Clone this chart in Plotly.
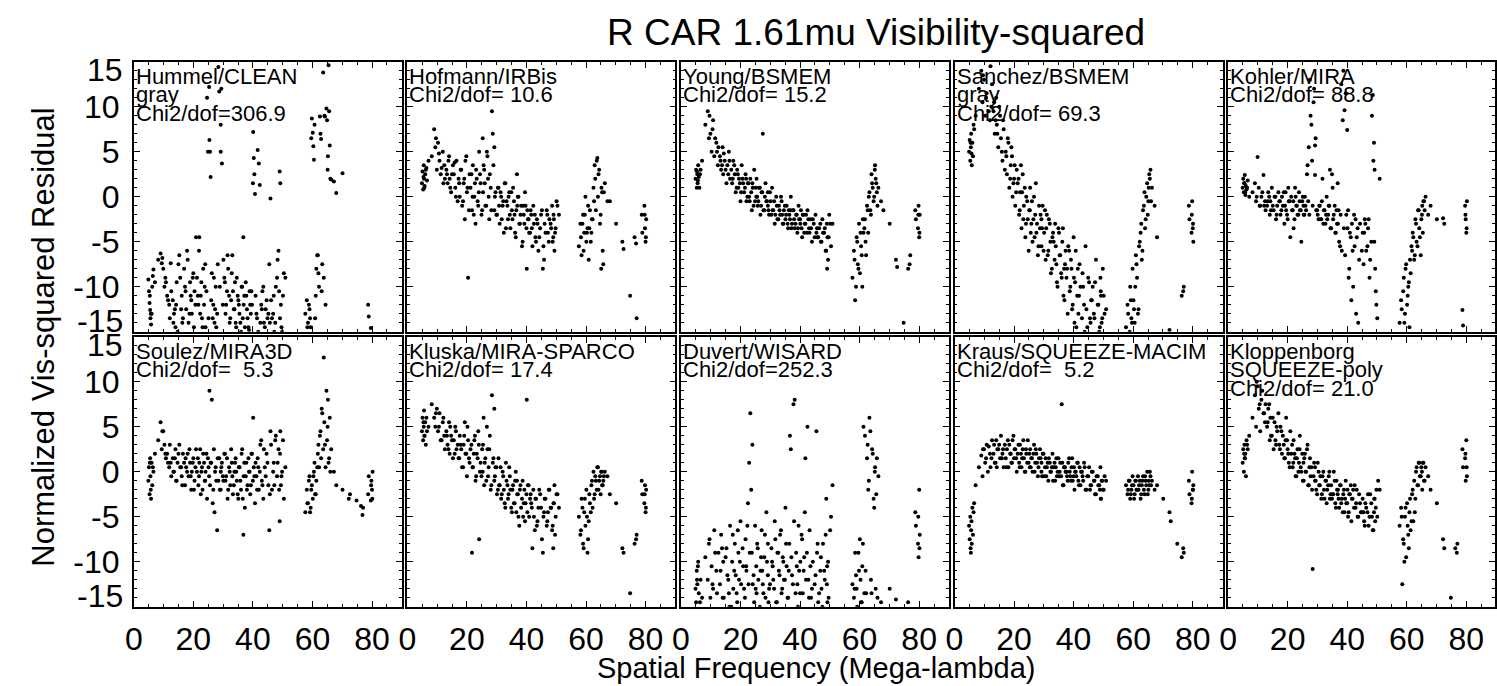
import plotly.graph_objects as go

W, H = 1497, 686
FONT = "Liberation Sans, Arial, Helvetica, sans-serif"

# ---------------- data ----------------
# spatial frequency of each measurement (Mega-lambda), shared by all reconstructions
FREQ = [4.9, 5.1, 5.3, 5.5, 5.6, 5.8, 6.0, 6.2, 6.6, 7.1,
        8.2, 9.0, 9.4, 9.9, 10.3, 10.8, 11.2, 11.9, 12.4, 12.6,
        13.1, 13.5, 14.0, 14.2, 14.7, 15.3, 15.6, 16.1, 16.5, 16.9,
        17.2, 17.6, 18.1, 18.4, 18.9, 19.3, 19.5, 20.0, 20.4, 20.9,
        21.2, 21.7, 22.0, 22.5, 22.9, 23.3, 23.8, 24.1, 24.6, 24.9,
        25.3, 25.4, 25.8, 26.2, 26.7, 27.1, 27.5, 28.0, 28.4, 28.7,
        29.2, 29.2, 29.6, 30.1, 30.6, 31.0, 31.5, 32.0, 32.4, 32.9,
        33.3, 33.8, 34.2, 34.6, 35.1, 35.5, 36.0, 36.4, 36.9, 37.3,
        37.8, 38.2, 38.7, 39.1, 39.5, 40.0, 40.1, 40.3, 40.7, 41.2,
        41.6, 42.0, 42.3, 42.5, 43.0, 43.5, 44.0, 44.6, 45.2, 45.9,
        46.4, 47.0, 47.5, 48.1, 48.6, 49.0, 49.2, 49.4, 49.8, 50.4,
        57.6, 58.1, 58.5, 59.0, 59.4, 59.8, 60.1, 60.5, 60.9, 61.3,
        61.8, 62.2, 62.5, 62.9, 63.3, 63.8, 64.2, 64.7, 65.1, 65.4,
        65.8, 66.3, 67.2, 68.0, 70.1, 72.2, 72.6, 74.8, 76.3, 76.8,
        77.0, 78.7, 78.9, 79.6, 79.8, 80.0, 80.2, 50.9, 45.5, 36.8]
FREQ_B = [5.4, 5.7, 6.4, 9.6, 10.6, 11.5, 12.1, 13.3, 13.8, 14.4,
          15.0, 15.9, 16.3, 17.4, 17.9, 18.7, 19.1, 19.8, 20.2, 20.7,
          21.5, 21.9, 22.3, 22.7, 23.1, 23.6, 24.0, 24.4, 25.1, 25.6,
          26.0, 26.5, 26.9, 27.3, 27.7, 28.2, 28.9, 29.4, 29.9, 30.4,
          30.8, 31.3, 31.7, 32.2, 32.7, 33.1, 33.6, 34.0, 34.4, 34.9,
          35.3, 35.8, 36.2, 36.6, 37.1, 37.6, 38.0, 38.5, 38.9, 39.3,
          39.7, 40.5, 40.9, 41.4, 41.8, 42.8, 43.2, 43.7, 44.3, 44.9,
          45.7, 46.1, 46.8, 47.2, 47.7, 48.3, 48.8, 49.1, 49.6, 50.1,
          58.3, 58.8, 59.2, 59.6, 60.3, 60.7, 61.1, 61.6, 62.0, 62.7,
          63.1, 63.6, 64.0, 64.4, 64.9, 65.2, 65.6, 66.0, 79.7, 80.1]

R_HUMMEL = [-9.2, -10.5, -11.8, -12.6, -13.5, -14.2, -13.0, -10.0, -8.1, -9.5,
            -7.0, -6.3, -7.4, -8.0, -10.0, -9.5, -11.0, -12.0, -7.4, -10.5,
            -11.5, -13.0, -14.5, -12.0, -15.0, -6.5, -9.0, -11.0, -13.5, -8.0,
            -10.0, -12.5, -7.0, -14.0, -9.5, -11.5, -13.0, -8.5, -10.5, -4.5,
            -9.0, -12.0, -4.5, -11.0, -13.5, -8.0, -10.0, -14.5, 11.0, 5.0,
            12.2, 6.3, 2.2, -8.5, -12.0, -14.0, -10.0, -13.0, 14.4, 11.7,
            8.0, 5.0, 3.7, -7.0, -9.5, -12.0, -6.5, -11.0, -13.5, -8.5,
            -10.5, -12.5, -14.0, -9.0, -11.5, -13.0, -15.0, -10.0, -12.0, -14.5,
            -11.0, -13.5, -14.8, -12.0, -10.5, 1.5, 7.2, 4.3, 0.3, -13.0,
            5.2, 3.7, 1.3, -14.0, -12.5, -10.0, -14.5, -11.5, -13.0, -0.2,
            -13.5, -11.0, -14.0, -9.0, -6.0, 2.8, 1.5, -12.0, -15.0, -8.5,
            -13.0, -11.5, -14.0, -12.5, -14.5, 8.7, 7.1, 4.1, -13.5, -8.0,
            -6.5, -10.0, 8.9, 6.4, -7.5, -9.0, 8.9, 9.8, 3.0, 14.6,
            5.7, 1.9, 1.7, 0.4, 2.6, -17.0, -18.0, -20.0, -19.0, -17.0,
            -18.0, -12.0, -13.3, -14.6, -16.0, -17.0, -18.0, -9.0, -7.5, -4.5]
R_HUMMEL_B = [-11.0, -13.0, -8.8, -6.8, -9.0, -11.5, -13.5, -14.0, -12.5, -9.5,
              -7.5, -12.5, -14.0, -10.5, -6.0, -13.0, -11.0, -9.0, -14.5, -12.0,
              -11.0, -6.0, -13.0, -9.5, -14.5, -12.0, -7.5, -10.5, -13.5, 5.0,
              -11.5, -13.5, -9.0, -12.5, -14.5, -7.5, -10.0, 12.0, -12.0, -9.0,
              -13.0, -10.5, -8.0, -14.0, -11.5, -6.5, -12.5, -9.5, -14.5, -11.0,
              -12.0, -14.0, -10.0, -13.5, -11.0, -9.5, -12.5, -14.5, -10.5, -13.0,
              -12.0, 2.5, -11.0, -13.5, -15.0, -12.0, -10.5, -14.0, -12.5, -13.5,
              -14.0, -11.5, -13.0, -15.0, -10.0, -7.0, -10.5, -13.5, -14.5, -11.0,
              -14.5, -12.0, -13.5, 6.5, 5.6, 8.0, -11.0, -6.5, -8.5, 7.0,
              -10.5, 13.8, 9.0, -12.0, 8.5, 4.5, 9.5, 2.0, -16.0, -17.0]
R_HOFMANN = [1.5, 2.8, 0.8, 3.5, 2.0, 1.2, 2.5, 3.0, 1.8, 4.0,
             4.5, 7.5, 5.5, 3.0, 6.0, 4.0, 2.5, 5.0, 3.5, 2.0,
             3.0, 1.5, 4.5, 2.0, 0.5, 3.5, 2.5, 1.0, 4.0, -0.5,
             2.0, 0.0, 3.0, -1.0, 1.5, -2.5, 4.0, 0.5, -9.0, 2.5,
             1.0, -1.5, 3.5, 0.0, -3.0, 2.0, -1.0, 5.0, 1.5, -2.0,
             6.5, 0.5, 3.0, -1.0, 5.0, 2.0, -2.5, 1.0, 9.5, 7.0,
             5.5, -1.5, 0.5, -2.0, 1.0, -3.0, 0.0, -1.0, -4.0, 1.5,
             -0.5, -2.5, 0.5, -3.5, -1.5, 1.0, -2.0, -4.5, -1.0, 0.0,
             -3.0, -1.0, -5.0, -2.0, 0.5, -3.5, -8.0, -1.5, -2.5, -4.0,
             -2.0, -5.5, -1.0, -3.0, -4.5, -2.5, -6.0, -3.5, -1.5, -7.0,
             -4.0, -2.0, -5.0, -3.0, -1.0, -4.5, -2.5, -6.0, -3.5, -1.0,
             -5.5, -3.0, -6.5, -2.0, -4.0, 0.0, -5.0, -3.5, -7.0, -1.5,
             -4.0, -2.5, 1.0, 3.5, -1.5, 4.3, 2.5, -3.0, -8.0, 0.5,
             -7.5, 1.5, -0.5, -0.5, -3.0, -5.0, -5.8, -11.0, -4.5, -5.2,
             -13.5, -2.0, -4.0, -1.0, -3.5, -5.0, -2.5, -2.0, -8.0, 2.5]
R_HOFMANN_B = [2.2, 1.0, 3.2, 6.5, 4.8, 3.2, 1.5, 2.5, 4.0, 1.0,
               2.5, 3.8, 0.0, 1.5, 3.0, -0.5, 2.0, 4.5, 1.0, -1.5,
               2.5, 0.0, -2.0, 1.5, 3.0, -0.5, 0.5, 2.5, -1.5, 3.5,
               1.5, -1.0, 4.5, 0.0, 2.5, -1.5, 3.5, 0.0, -2.0, 1.0,
               -1.0, 0.5, -2.5, -0.5, 1.5, -3.5, -1.0, 0.0, -2.0, 0.5,
               -2.5, -0.5, -4.0, -1.5, 0.0, -3.0, -2.0, -5.5, -1.0, -3.0,
               -1.0, -2.5, -4.0, -1.5, -3.5, -2.0, -5.0, -3.0, -4.5, -2.0,
               -5.5, -3.0, -1.5, -4.0, -2.5, -3.5, -5.0, -2.0, -4.0, -0.5,
               -4.5, -3.0, -6.0, -2.0, -4.0, -1.0, -3.5, -5.0, -2.5, -0.5,
               2.0, 4.0, 0.0, 3.0, -2.0, 1.0, -6.0, 0.5, -2.0, -4.5]
R_YOUNG = [2.0, 3.0, 1.0, 2.5, 1.5, 3.5, 2.2, 1.0, 3.0, 4.0,
           8.0, 9.5, 6.5, 7.0, 5.0, 8.5, 4.5, 6.0, 3.5, 5.5,
           4.5, 3.0, 5.5, 2.5, 4.0, 1.5, 3.5, 5.0, 2.0, 3.0,
           1.5, 4.0, 2.5, 0.5, 3.0, 1.0, 2.0, -0.5, 3.5, 1.5,
           0.5, 2.5, -0.5, 1.5, 0.0, 2.0, -1.5, 1.0, 3.0, -0.5,
           0.0, 2.0, -1.0, 1.0, -2.0, 0.5, 7.0, -1.5, 1.5, -0.5,
           -1.0, 0.5, -2.0, -0.5, 1.0, -1.5, -3.0, 0.0, -2.5, -1.0,
           -2.0, -0.5, -3.0, -1.5, -2.5, -1.0, -3.5, -2.0, 0.0, -3.0,
           -1.5, -3.5, -2.0, -4.0, -1.0, -2.5, -3.0, -1.5, -4.5, -2.0,
           -3.0, -2.0, -4.0, -1.5, -3.5, -2.5, -5.0, -3.0, -2.0, -4.5,
           -3.5, -5.0, -2.5, -4.0, -6.0, -3.0, -4.5, -7.0, -2.0, -5.5,
           -9.0, -6.0, -11.5, -4.5, -7.5, -3.0, -8.5, -5.5, -10.0, -4.0,
           -2.5, -6.5, -1.0, -4.0, 0.5, -2.0, 1.5, -0.5, 3.0, 2.0,
           0.5, 1.0, -0.5, -1.5, -3.0, -7.0, -7.8, -14.0, -8.0, -7.5,
           -6.5, -1.5, -2.5, -3.5, -1.0, -4.5, -2.0, -3.0, -4.0, -1.5]
R_YOUNG_B = [2.8, 1.8, 2.5, 9.0, 7.5, 6.5, 5.0, 4.0, 3.5, 4.8,
             3.0, 2.5, 4.0, 2.0, 3.5, 1.0, 2.5, 1.5, 0.5, 2.0,
             1.0, 2.0, 0.0, 1.5, -0.5, 0.5, 1.5, -1.0, 1.0, 0.0,
             -0.5, 1.0, -1.0, 0.5, -1.5, 0.0, -0.5, -1.5, 0.5, -2.0,
             -1.5, -0.5, -2.0, -1.0, -2.5, -1.5, 0.0, -2.0, -3.0, -1.0,
             -2.0, -3.0, -1.5, -2.5, -3.5, -1.5, -2.5, -3.0, -2.0, -3.5,
             -2.5, -3.5, -2.0, -4.0, -3.0, -2.5, -4.0, -3.5, -2.5, -4.5,
             -3.5, -4.5, -3.0, -5.0, -4.0, -3.5, -6.0, -8.0, -4.5, -3.0,
             -7.0, -10.0, -5.0, -8.0, -4.0, -6.5, -2.5, -3.5, -5.0, -1.5,
             0.0, -1.5, 2.5, 1.0, 0.0, 3.5, 1.5, -1.0, -2.0, -4.0]
R_SANCHEZ = [5.0, 6.3, 4.0, 5.5, 7.0, 3.5, 6.0, 4.5, 7.5, 9.0,
             12.0, 14.0, 10.5, 13.0, 9.0, 11.5, 15.5, 8.5, 10.0, 12.5,
             9.5, 7.0, 11.0, 8.0, 5.5, 9.0, 6.5, 4.0, 7.5, 3.0,
             5.0, 2.5, 6.0, 1.0, 3.5, 4.5, 0.0, 2.0, -1.0, 3.0,
             1.5, -2.0, 0.5, -3.5, 2.5, -1.0, -4.5, 0.0, -2.5, -6.0,
             -1.5, 1.0, -3.0, -5.0, 0.0, -2.0, -4.0, -6.5, -1.0, -3.5,
             -2.5, -5.5, -1.0, -4.0, -7.0, -2.0, -6.0, -3.0, -8.5, -4.5,
             -5.0, -3.0, -7.5, -10.0, -4.0, -6.5, -9.0, -3.5, -11.5, -6.0,
             -8.0, -5.5, -10.5, -7.0, -12.5, -4.5, -9.0, -14.0, -6.0, -11.0,
             -13.0, -7.5, -10.0, -15.5, -8.5, -12.0, -5.5, -14.5, -9.5, -11.5,
             -10.0, -13.5, -7.0, -12.0, -15.0, -9.0, -11.0, -14.0, -8.0, -13.0,
             -14.5, -12.0, -15.5, -10.0, -13.5, -8.0, -11.5, -14.0, -6.5, -9.0,
             -12.5, -5.0, -4.0, -7.0, -1.5, 0.5, -2.5, 1.5, -0.5, 2.5,
             3.0, 1.0, -1.0, -4.5, -15.5, -14.8, -17.0, -16.0, -11.0, -10.5,
             -10.0, -1.0, -2.5, -4.0, -0.5, -3.5, -5.0, -12.5, -13.5, -8.0]
R_SANCHEZ_B = [6.0, 4.8, 8.0, 13.5, 11.0, 9.5, 14.5, 10.5, 8.5, 7.0,
               10.0, 5.0, 8.5, 4.5, 6.5, 2.0, 5.5, 1.5, 3.5, 0.5,
               2.0, -1.5, 3.5, 0.5, -2.5, 1.0, -3.0, -0.5, -1.5, -4.0,
               -0.5, -2.5, -4.5, 1.5, -3.0, -5.5, -2.0, -3.5, -6.0, -1.5,
               -3.5, -6.5, -2.5, -5.0, -8.0, -4.0, -7.0, -5.5, -9.5, -3.5,
               -6.5, -8.5, -5.0, -11.0, -7.5, -9.0, -13.0, -6.0, -10.0, -8.0,
               -12.0, -9.5, -14.5, -8.0, -11.0, -13.5, -10.0, -15.0, -12.5, -9.0,
               -14.0, -11.5, -13.0, -9.5, -15.5, -12.0, -14.5, -10.5, -13.5, -11.0,
               -13.0, -15.0, -11.5, -14.0, -12.5, -10.0, -7.5, -13.0, -5.5, -3.0,
               -6.0, -1.0, -3.5, 0.0, -2.0, 1.0, 2.0, -0.5, -2.0, -3.0]
R_KOHLER = [1.0, 2.0, 0.5, 1.5, 2.4, 0.2, 1.2, 0.8, 1.8, 0.0,
            0.5, 1.5, -0.5, 4.4, 1.0, -1.0, 0.0, 2.4, -0.5, -1.5,
            -1.0, 0.5, -2.0, -0.5, 1.0, -1.5, 0.0, -2.5, -1.0, 0.5,
            -0.5, -2.0, 0.0, -1.0, -3.0, 0.5, -1.5, -2.5, -0.5, -4.5,
            0.0, -1.5, -3.5, 1.0, -1.0, -2.0, 0.5, -1.5, -5.0, -0.5,
            -1.0, -2.0, 0.0, -1.5, 3.5, 5.5, 13.0, 8.0, -1.0, 10.5,
            2.4, 5.7, -1.5, -2.0, -1.0, -2.5, -0.5, -3.0, -1.5, -2.0,
            -2.5, -1.0, 3.0, -3.5, 1.0, -2.0, -4.0, -1.5, -3.0, -5.0,
            -2.0, -6.0, 14.0, 9.6, 11.5, 7.4, -3.5, -1.5, -8.0, -4.5,
            -3.0, -10.0, -2.0, -5.5, -13.0, -3.5, -7.0, -15.5, -4.0, -2.5,
            -6.0, -3.5, -9.0, -5.0, 11.3, 6.0, 3.0, -8.0, -12.0, -15.5,
            -14.0, -11.5, -15.5, -9.0, -13.0, -7.5, -12.0, -10.0, -14.5, -8.5,
            -6.0, -4.5, -7.0, -2.5, -5.0, -1.5, -3.5, -6.5, -2.0, -4.0,
            -0.5, 0.0, -2.0, -1.0, -2.5, -2.4, -3.0, -16.0, -17.0, -16.0,
            -16.0, -12.6, -14.3, -1.0, -2.5, -4.0, -0.5, 2.0, -7.5, 1.5]
R_KOHLER_B = [1.5, 0.5, 1.0, 0.0, -1.0, 0.5, -1.0, -0.5, 0.0, -1.5,
              -1.0, 0.0, -2.0, -0.5, -1.5, 0.5, -1.0, -2.0, 1.0, -0.5,
              -1.5, -0.5, -2.5, 0.0, -1.0, -2.0, -0.5, -1.5, 0.0, -2.0,
              -1.0, 2.5, -0.5, -2.0, 9.0, 4.0, 12.0, 6.5, -1.5, -2.5,
              -1.0, -2.5, 2.0, -1.5, -3.0, 0.0, -2.0, -1.0, -3.5, 2.5,
              -2.5, -1.0, -4.0, -3.0, -1.5, -5.5, 12.5, 8.5, -3.5, -6.5,
              -2.0, -9.0, -4.0, -11.5, -6.0, -2.5, -4.5, -14.0, -3.0, -6.0,
              -4.0, -3.0, -5.5, -2.5, -7.0, 9.0, 4.0, -5.0, -10.5, -13.5,
              -12.5, -10.5, -14.0, -8.0, -11.0, -9.5, -7.0, -5.5, -4.0, -6.5,
              -3.0, -5.5, -1.5, -4.5, -2.5, -1.0, -0.5, -1.5, -2.0, -3.5]
R_SOULEZ = [-1.0, 0.5, -2.5, 1.5, -0.5, -3.0, 1.0, -1.5, 0.0, 2.0,
            3.5, 5.5, 2.5, 4.5, 3.0, 1.5, 2.0, 0.5, 1.0, -0.5,
            1.5, 0.0, 2.5, -1.0, 1.0, 3.0, 0.5, -0.5, 2.0, 1.0,
            -1.5, 0.5, 2.0, -0.5, 1.0, -2.0, 0.0, 1.5, -1.0, 2.5,
            0.0, -1.5, 1.0, -2.5, 0.5, 2.0, -1.0, 0.0, -3.0, 1.5,
            -0.5, 9.0, 1.0, 8.0, -2.0, -4.5, 0.5, -6.5, -1.0, 1.5,
            0.0, -2.0, 1.0, -1.0, 2.0, -0.5, -3.0, 0.5, -1.5, 1.0,
            -2.5, 0.0, 1.5, -1.0, -3.0, 0.5, -2.0, 2.5, -0.5, -4.0,
            1.0, -1.5, 0.0, -2.5, 2.0, -1.0, 6.0, 0.5, -3.5, -0.5,
            1.5, -2.0, 0.0, 3.0, -1.0, -3.0, 0.5, 2.0, -1.5, 4.5,
            -2.0, 1.0, 3.5, -0.5, 2.5, -5.5, 4.5, -1.5, 0.0, -3.0,
            -4.5, -2.0, -3.5, -0.5, -4.0, -1.5, -3.0, 0.0, -2.5, -1.0,
            2.0, 0.5, 4.0, 1.5, 6.5, 12.7, 3.0, 9.0, 5.0, 1.0,
            6.0, 2.5, 0.0, -1.5, -2.0, -3.0, -2.5, -3.2, -3.8, -4.8,
            -4.0, -2.5, -0.5, -3.2, -1.0, -2.0, 0.0, 0.5, -6.5, -7.0]
R_SOULEZ_B = [1.0, -2.0, 0.5, 4.5, 2.0, 1.0, 3.0, 0.0, 1.5, -1.0,
              2.0, 0.5, -1.5, 1.5, 0.0, 2.5, -0.5, 1.0, -2.0, 0.5,
              1.5, -0.5, 2.5, 0.0, -2.0, 1.0, -1.0, 2.0, 0.5, -1.5,
              1.0, -3.5, 2.5, 0.0, -1.0, 1.5, -2.0, 0.5, -0.5, 2.0,
              -1.0, 1.5, -2.0, 0.0, 2.5, -0.5, -1.5, 1.0, 0.0, -2.5,
              0.5, -1.0, 2.0, -3.0, 1.0, -0.5, -2.0, 1.5, 0.0, -1.5,
              2.0, -0.5, 1.0, -2.0, 0.5, 3.5, -1.5, 2.5, -0.5, 1.0,
              -2.5, 3.0, 0.0, -1.5, 4.0, 1.0, -2.0, 2.0, -0.5, 3.5,
              -3.5, -1.0, -4.5, -2.0, -0.5, 1.0, -2.5, 0.5, 3.0, 4.5,
              7.0, 2.5, 5.5, 0.5, 3.5, 8.0, 1.5, 0.0, -1.5, -3.0]
R_KLUSKA = [4.5, 6.0, 3.5, 5.0, 6.8, 4.0, 5.5, 3.0, 4.5, 5.0,
            7.5, 6.0, 5.0, 7.0, 4.5, 6.5, 3.5, 5.5, 4.0, 2.5,
            4.5, 3.0, 5.5, 2.0, 4.0, 1.5, 3.5, 5.0, 2.5, 3.0,
            1.5, 4.0, 2.5, 0.5, 3.0, 5.5, 2.0, -0.5, 3.5, 1.0,
            2.5, -9.0, 0.5, 3.5, -1.0, 2.0, 4.5, -7.5, 1.0, -0.5,
            0.0, 3.0, -1.5, 1.5, 5.0, -0.5, 2.5, -2.0, 8.5, 1.0,
            7.0, -1.0, 0.5, -2.5, 1.5, -1.5, -3.0, 0.0, -2.0, -4.0,
            -1.0, -3.0, 0.5, -2.0, -4.5, -1.5, -3.5, 0.0, -2.5, -5.0,
            -2.0, -4.0, -1.0, -3.5, -5.5, -2.5, 8.0, -4.5, -1.5, -3.0,
            -3.5, -8.5, -2.0, -5.0, -3.0, -6.0, -4.0, -2.5, -7.5, -4.5,
            -3.0, -5.5, -2.0, -4.0, -6.5, -8.5, -3.5, -1.5, -5.0, -2.5,
            -5.0, -7.0, -3.0, -8.0, -4.5, -6.0, -2.0, -9.0, -5.5, -3.5,
            -1.5, -4.0, 0.0, -2.5, -1.0, 0.5, -2.0, -0.5, 0.0, -1.5,
            -1.0, 0.0, -0.5, -2.5, -3.5, -8.5, -9.0, -13.5, -8.0, -7.5,
            -7.0, -1.0, -2.5, -3.5, -1.5, -4.5, -2.0, -4.0, -9.0, -1.0]
R_KLUSKA_B = [5.5, 4.0, 6.0, 6.5, 5.0, 3.5, 6.0, 4.0, 2.5, 5.0,
              3.5, 2.0, 4.5, 1.5, 3.0, 0.5, 4.0, 2.0, 5.0, 1.5,
              3.0, 0.5, 2.0, 4.0, -0.5, 1.5, 3.0, 0.0, 2.5, 6.0,
              1.0, -1.0, 2.5, 0.5, 4.0, -1.5, 1.5, -0.5, 0.5, -2.0,
              -1.5, 0.5, -2.5, -0.5, -3.5, 1.0, -1.5, -2.5, -0.5, -4.0,
              -2.0, -3.5, -1.0, -4.5, -2.5, -6.0, -1.5, -3.0, -5.0, -2.0,
              -3.5, -1.5, -5.0, -2.5, -4.0, -6.5, -3.0, -5.5, -2.0, -4.0,
              -5.0, -3.0, -6.0, -4.5, -2.0, -4.0, -6.0, -3.5, -7.0, -2.5,
              -6.5, -4.0, -8.5, -3.0, -5.0, -7.5, -2.5, -4.5, -1.0, -3.0,
              -0.5, -2.0, 0.5, -1.0, -2.5, 0.0, -1.5, -0.5, -2.5, -4.0]
R_DUVERT = [-13.0, -14.5, -11.0, -12.5, -15.5, -10.0, -13.5, -16.0, -12.0, -14.0,
            -9.5, -12.0, -8.0, -14.0, -10.5, -13.0, -6.5, -11.0, -15.5, -9.0,
            -12.5, -7.0, -14.0, -10.0, -16.0, -8.5, -11.5, -13.5, -6.0, -15.0,
            -10.0, -13.0, -8.0, -11.5, -14.5, -9.0, -12.0, -5.5, -15.5, -10.5,
            -13.0, -7.5, -11.0, -3.5, 1.0, 6.5, -9.0, -12.5, -14.5, -6.0,
            -10.5, -13.5, -8.5, -15.5, -11.0, -6.5, -12.5, -9.5, -14.0, -4.5,
            -11.5, -8.0, -13.0, -16.0, -10.0, -12.0, -5.5, -14.5, -9.0, -11.0,
            -7.0, -13.5, -9.5, -12.0, -4.0, -10.5, -14.0, -8.0, 2.5, -11.5,
            7.5, 8.0, -9.0, -12.5, -6.0, -13.5, -10.0, -15.5, -7.5, -11.0,
            -4.5, -12.0, -9.0, 5.0, -14.0, -10.5, -13.0, -16.0, -11.5, -8.0,
            -13.5, -9.5, -15.0, -11.0, -7.0, -12.5, -14.5, -10.0, -16.0, -5.0,
            -12.5, -14.0, -9.0, -13.0, -15.5, -11.0, -7.5, -14.5, -10.5, 5.0,
            4.0, -13.5, 1.5, -2.0, 6.0, -12.0, 2.5, -3.0, 0.0, -13.0,
            1.5, -0.5, -14.5, -16.0, -13.0, -14.2, -16.0, -16.0, -14.5, -17.0,
            -16.0, -4.5, -6.0, -8.0, -9.5, -2.0, -7.0, -1.5, 4.5, -16.0]
R_DUVERT_B = [-12.0, -10.5, -14.5, -7.5, -12.5, -9.0, -13.5, -11.0, -8.5, -14.0,
              -9.5, -12.0, -15.0, -7.0, -11.0, -13.5, -6.5, -10.0, -12.5, -8.5,
              -14.0, -10.5, -6.0, -12.5, -9.0, -2.0, 3.0, -11.5, -13.0, -8.0,
              -12.0, -15.0, -9.5, -11.0, -13.5, -7.0, -10.0, -14.5, -12.5, -8.5,
              -10.5, -13.0, -7.5, -14.5, -9.0, -11.5, -6.5, -13.0, -10.0, -12.0,
              -8.0, -14.0, -11.0, 4.0, -9.5, -12.5, -5.5, -13.5, -10.5, -15.0,
              -11.0, -7.0, -13.5, -9.5, 1.5, -12.0, -6.5, -14.0, -10.0, -12.5,
              -9.0, -14.5, -11.0, -13.0, -8.0, -12.0, -3.0, -10.5, -14.0, -6.5,
              -13.0, -11.5, -15.0, -9.0, -12.0, -14.5, -8.0, -13.5, -11.0, 3.0,
              -1.0, 4.5, -13.5, 2.0, -4.0, 0.5, -2.5, -14.0, -5.0, -8.5]
R_KRAUS = [-6.0, -7.5, -5.0, -9.0, -6.5, -8.0, -4.0, -7.0, -3.5, -1.5,
           0.5, 1.8, -0.5, 2.5, 1.0, 3.0, 0.0, 2.0, 1.5, 3.5,
           2.0, 1.0, 3.5, 0.5, 2.5, 1.5, 4.0, 2.0, 0.5, 3.0,
           1.5, 2.5, 0.5, 3.0, 2.0, 1.0, 3.5, 1.5, 2.5, 0.0,
           2.0, 1.0, 3.0, 0.5, 2.5, 1.5, 0.0, 2.0, 3.5, 1.0,
           0.5, 2.5, 1.5, 0.0, 3.0, 1.0, 2.0, -0.5, 1.5, 2.5,
           1.0, 0.0, 2.0, -0.5, 1.5, 0.5, -1.0, 1.0, 0.0, 2.0,
           0.5, -1.0, 1.5, 0.0, -0.5, 1.0, 7.5, -1.5, 0.5, 0.0,
           -0.5, 1.0, 0.0, -1.0, 1.5, -0.5, 0.5, -2.0, 0.0, 1.0,
           -1.0, 0.5, -1.5, 0.0, -0.5, 1.0, -2.0, -0.5, 0.5, -1.5,
           0.0, -1.0, -2.5, -0.5, -1.5, 0.5, -3.0, -1.0, -2.0, -0.5,
           -1.5, -2.5, -1.0, -3.0, -2.0, -0.5, -1.5, -2.5, -1.0, -2.0,
           -2.0, -1.0, -3.0, -1.5, -0.5, -2.5, -1.0, 0.0, -2.0, -1.5,
           -0.5, -1.0, -2.0, -1.5, -3.0, -4.5, -5.5, -8.0, -9.5, -8.5,
           -9.0, -1.0, -2.5, -3.5, 0.0, -2.0, -1.5, -1.0, -2.0, 0.5]
R_KRAUS_B = [-8.5, -5.5, -4.5, 2.5, 1.5, 2.8, 0.5, 3.0, 1.0, 2.5,
             3.0, 1.5, 2.5, 0.5, 3.5, 2.0, 1.0, 4.0, 2.5, 1.5,
             3.0, 0.5, 2.0, 1.5, 3.5, 0.0, 2.5, 1.0, 2.0, 0.5,
             1.5, 2.0, 0.0, 2.5, 1.0, 0.5, 1.5, -0.5, 2.0, 0.5,
             -0.5, 1.0, 1.5, 0.0, 0.5, -1.0, 1.0, 0.5, -0.5, 1.5,
             0.0, -0.5, 1.0, -1.5, 0.5, 0.0, -1.0, 1.5, -0.5, 0.5,
             -1.0, 0.0, -0.5, 1.0, -1.5, 0.0, -1.0, 0.5, -2.0, -0.5,
             -1.5, 0.0, -1.0, -2.5, -0.5, -1.5, -2.0, -3.0, -1.0, -2.0,
             -2.0, -1.0, -2.5, -1.5, -3.0, -1.0, -2.0, -0.5, -1.5, -2.5,
             -1.0, -2.0, -0.5, -1.5, -2.5, -1.0, 0.0, -1.5, -3.0, -2.0]
R_KLOPPENBORG = [1.0, 2.5, 0.0, 3.0, 1.5, 2.0, -0.5, 3.5, 2.5, 4.0,
                 6.0, 8.5, 5.0, 9.5, 7.0, 4.5, 8.0, 6.5, 5.5, 7.5,
                 5.0, 7.0, 3.5, 6.0, 4.0, 2.5, 5.5, 3.0, 4.5, 6.5,
                 3.0, 5.0, 2.0, 4.0, 1.5, 3.5, 6.0, 2.5, 1.0, 4.5,
                 2.0, 0.5, 3.5, 1.5, -0.5, 2.5, 1.0, 4.0, 0.0, 2.0,
                 1.0, -1.0, 2.0, 0.0, 3.0, -1.5, 1.5, 0.5, -10.8, -0.5,
                 -1.0, 0.5, -2.0, 1.0, -1.5, -0.5, -2.5, 0.0, -3.0, -1.0,
                 -2.0, -0.5, -3.0, -1.5, -2.5, 0.0, -3.5, -1.0, -2.0, -4.0,
                 -1.5, -3.0, -2.5, -4.5, -1.0, -3.5, -2.0, -5.0, -2.5, -1.5,
                 -3.0, -2.0, -4.0, -1.5, -3.5, -5.0, -2.5, -4.5, -3.0, -6.0,
                 -4.0, -2.5, -5.0, -3.5, -6.5, -4.5, -3.0, -5.5, -2.0, -1.0,
                 -6.0, -4.0, -12.5, -8.0, -5.0, -9.5, -3.5, -7.0, -4.5, -6.5,
                 -2.5, -5.5, -1.0, -3.0, 0.5, -1.5, 1.0, -0.5, 0.0, 1.0,
                 -1.0, 0.5, -0.5, -2.0, -3.5, -7.5, -8.5, -14.0, -8.5, -9.0,
                 -8.0, 2.5, 0.5, 1.5, -1.0, 3.5, -0.5, -2.0, -4.5, -2.5]
R_KLOPPENBORG_B = [2.0, 1.5, 3.0, 10.0, 7.5, 9.0, 6.5, 5.5, 7.5, 4.0,
                   6.0, 3.5, 5.0, 2.5, 4.5, 3.0, 1.5, 3.5, 2.0, 0.5,
                   3.0, 1.0, 2.0, -0.5, 1.5, 0.0, 2.5, 0.5, -1.0, 1.5,
                   0.0, 2.5, -1.5, 0.5, -0.5, -2.0, 1.0, -1.0, -2.5, 0.0,
                   -1.5, -3.0, -0.5, -2.0, -1.0, -3.5, -1.5, 0.0, -2.5, -3.0,
                   -2.5, -1.0, -4.0, -2.0, -3.0, -1.5, -3.5, -4.5, -2.0, -3.0,
                   -3.5, -4.5, -2.5, -5.5, -3.0, -4.0, -2.0, -5.0, -3.5, -4.5,
                   -5.5, -3.5, -4.5, -6.0, -2.5, -5.0, -6.5, -3.0, -4.0, -5.0,
                   -5.0, -7.5, -10.0, -4.0, -6.0, -8.5, -3.0, -5.5, -2.0, -4.5,
                   0.0, -1.5, 1.0, -0.5, 0.5, -2.0, 1.0, -1.0, 2.0, 0.5]

PANEL_TEXT = [
    ["Hummel/CLEAN", "gray", "Chi2/dof=306.9"],
    ["Hofmann/IRBis", "Chi2/dof= 10.6"],
    ["Young/BSMEM", "Chi2/dof= 15.2"],
    ["Sanchez/BSMEM", "gray", "Chi2/dof= 69.3"],
    ["Kohler/MIRA", "Chi2/dof= 88.8"],
    ["Soulez/MIRA3D", "Chi2/dof=  5.3"],
    ["Kluska/MIRA-SPARCO", "Chi2/dof= 17.4"],
    ["Duvert/WISARD", "Chi2/dof=252.3"],
    ["Kraus/SQUEEZE-MACIM", "Chi2/dof=  5.2"],
    ["Kloppenborg", "SQUEEZE-poly", "Chi2/dof= 21.0"],
]
PANEL_RESID = [(R_HUMMEL, R_HUMMEL_B), (R_HOFMANN, R_HOFMANN_B), (R_YOUNG, R_YOUNG_B),
               (R_SANCHEZ, R_SANCHEZ_B), (R_KOHLER, R_KOHLER_B), (R_SOULEZ, R_SOULEZ_B),
               (R_KLUSKA, R_KLUSKA_B), (R_DUVERT, R_DUVERT_B), (R_KRAUS, R_KRAUS_B),
               (R_KLOPPENBORG, R_KLOPPENBORG_B)]
X_TICKS = [0, 20, 40, 60, 80]
Y_TICKS = [-15, -10, -5, 0, 5, 10, 15]
Y_TICKTEXT = ["", "-10", "-5", "0", "5", "10", ""]

# ---------------- layout geometry (pixels) ----------------
LEFT0, STEP, PW, PH = 125.7, 275.6, 270.0, 270.0
ROW_TOP = [61.7, 336.7]
TICKFONT = dict(family=FONT, size=32, color="black")

fig = go.Figure()
lay = {}
ann = []
for i in range(10):
    r, c = divmod(i, 5)
    n = i + 1
    left = LEFT0 + STEP * c
    right = min(left + PW, W)
    top = ROW_TOP[r]
    bot = top + PH
    xk = "xaxis" if n == 1 else f"xaxis{n}"
    yk = "yaxis" if n == 1 else f"yaxis{n}"
    xid = "x" if n == 1 else f"x{n}"
    yid = "y" if n == 1 else f"y{n}"
    axstyle = dict(showline=True, linecolor="black", linewidth=1.6, mirror="ticks", ticks="inside",
                   ticklen=6, tickwidth=1.2, tickcolor="black", showgrid=False, zeroline=False,
                   tickfont=TICKFONT)
    lay[xk] = dict(axstyle, domain=[left / W, right / W], anchor=yid,
                   range=[0, 90 * (right - left) / PW], tickmode="array", tickvals=X_TICKS,
                   ticktext=[str(v) for v in X_TICKS], showticklabels=(r == 1), ticklabelstandoff=3,
                   minor=dict(ticks="inside", ticklen=3, tickwidth=1, tickcolor="black",
                              tickmode="linear", tick0=0, dtick=5, showgrid=False))
    lay[yk] = dict(axstyle, domain=[1 - bot / H, 1 - top / H], anchor=xid, range=[-15, 15],
                   tickmode="array", tickvals=Y_TICKS, ticktext=Y_TICKTEXT, showticklabels=(c == 0),
                   ticklabelstandoff=6,
                   minor=dict(ticks="inside", ticklen=3, tickwidth=1, tickcolor="black",
                              tickmode="linear", tick0=0, dtick=1, showgrid=False))
    ya, yb = PANEL_RESID[i]
    fig.add_trace(go.Scatter(x=FREQ + FREQ_B, y=ya + yb, mode="markers", xaxis=xid, yaxis=yid,
                             showlegend=False, hoverinfo="skip",
                             marker=dict(color="black", size=4.0, line=dict(width=0))))
    for k, line in enumerate(PANEL_TEXT[i]):
        off = 14.3 + 18.9 * k
        ann.append(dict(xref=xid, yref=yid, x=0.0, y=15 - off / 9.0, xanchor="left", yanchor="middle",
                        text=line.replace(" ", "\u00a0"), showarrow=False,
                        font=dict(family=FONT, size=22, color="black")))
    if c == 0:
        ann.append(dict(xref="paper", yref=yid, x=117 / W, y=15, xanchor="right", yanchor="middle",
                        yshift=-8, text="15", showarrow=False, font=TICKFONT))
        ann.append(dict(xref="paper", yref=yid, x=117 / W, y=-15, xanchor="right", yanchor="middle",
                        yshift=11, text="-15", showarrow=False, font=TICKFONT))

ann.append(dict(xref="paper", yref="paper", x=873 / W, y=1 - 33 / H, xanchor="center", yanchor="middle",
                text="R CAR 1.61mu Visibility-squared", showarrow=False,
                font=dict(family=FONT, size=37, color="black")))
ann.append(dict(xref="paper", yref="paper", x=813 / W, y=1 - 668 / H, xanchor="center", yanchor="middle",
                text="Spatial Frequency (Mega-lambda)", showarrow=False,
                font=dict(family=FONT, size=29, color="black")))
ann.append(dict(xref="paper", yref="paper", x=35 / W, y=1 - 337 / H, xanchor="center", yanchor="middle",
                textangle=-90, text="Normalized Vis-squared Residual", showarrow=False,
                font=dict(family=FONT, size=31, color="black")))

fig.update_layout(width=W, height=H, margin=dict(l=0, r=0, t=0, b=0), paper_bgcolor="white",
                  plot_bgcolor="white", annotations=ann, **lay)
fig.write_html("out.html")
